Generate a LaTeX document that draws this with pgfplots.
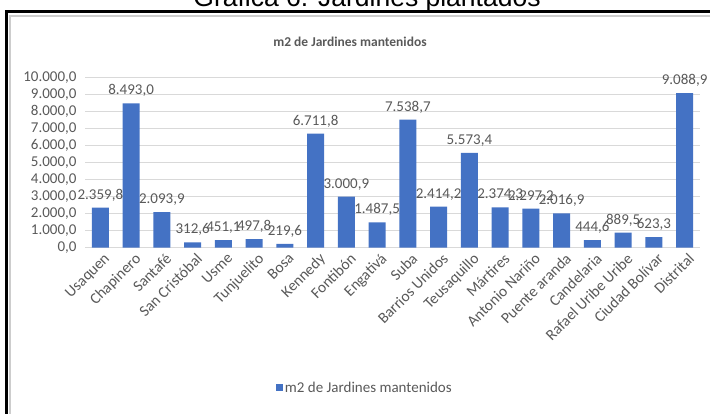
\documentclass[border=0pt]{standalone}
\usepackage{fontspec}
\setmainfont{Carlito}
\newfontfamily\arialfont{Liberation Sans}
\usepackage{pgfplots}
\pgfplotsset{compat=1.18}
\definecolor{barblue}{RGB}{68,114,196}
\definecolor{txtgray}{RGB}{89,89,89}
\definecolor{gridgray}{RGB}{217,217,217}
\definecolor{framegray}{RGB}{205,205,205}
\newcommand{\fs}[1]{\fontsize{#1}{#1}\selectfont}
\begin{document}
\begin{tikzpicture}
\node[font={\arialfont\fs{26.5}}, anchor=base, inner sep=0pt] at (367pt,-6.5pt) {Gráfica 6. Jardines plantados};
\draw[line width=3.3pt, line join=miter] (6.7pt,-420pt) -- (6.7pt,-11.7pt) -- (715pt,-11.7pt);
\draw[framegray, line width=1.2pt] (10pt,-420pt) -- (10pt,-16pt) -- (715pt,-16pt);
\node[font={\bfseries\fs{13.5}}, text=txtgray] at (350pt,-42pt) {m2 de Jardines mantenidos};
\begin{axis}[
  at={(85pt,-247.7pt)}, anchor=south west,
  scale only axis, width=615pt, height=170pt,
  xmin=-0.5, xmax=19.5, ymin=0, ymax=10000,
  ybar, bar width=17pt,
  xtick={0,...,19},
  xticklabels={Usaquen,Chapinero,Santafé,San Cristóbal,Usme,Tunjuelito,Bosa,Kennedy,Fontibón,Engativá,Suba,Barrios Unidos,Teusaquillo,Mártires,Antonio Nariño,Puente aranda,Candelaria,Rafael Uribe Uribe,Ciudad Bolívar,Distrital},
  ytick={0,1000,...,10000},
  scaled y ticks=false,
  ymajorgrids, grid style={gridgray, line width=0.8pt},
  axis x line*=bottom, axis y line*=left,
  y axis line style={draw=none},
  x axis line style={draw=gridgray, line width=0.8pt, -},
  major tick length=0pt,
  tick label style={text=txtgray},
  y tick label style={font=\fs{15}, xshift=-5pt},
  x tick label style={font=\fs{15.5}, rotate=45, anchor=north east, inner sep=1pt, yshift=-4pt},
  /pgf/number format/fixed,
  /pgf/number format/fixed zerofill,
  /pgf/number format/precision=1,
  /pgf/number format/use comma,
  /pgf/number format/assume math mode=true,
  nodes near coords,
  every node near coord/.append style={font=\fs{15}, text=txtgray, yshift=3pt},
  legend style={at={(0.455,-0.825)}, anchor=center, draw=none, fill=none, font=\fs{15}, text=txtgray},
]
\addplot[fill=barblue, draw=none, legend image code/.code={\fill[barblue] (0pt,-3.5pt) rectangle (7pt,3.5pt);}] coordinates {
(0,2359.8) (1,8493.0) (2,2093.9) (3,312.6) (4,451.1) (5,497.8) (6,219.6) (7,6711.8) (8,3000.9) (9,1487.5)
(10,7538.7) (11,2414.2) (12,5573.4) (13,2374.3) (14,2297.2) (15,2016.9) (16,444.6) (17,889.5) (18,623.3) (19,9088.9)
};
\addlegendentry{m2 de Jardines mantenidos}
\end{axis}
\pgfresetboundingbox
\useasboundingbox (0pt,0pt) rectangle (710pt,-413pt);
\end{tikzpicture}
\end{document}
